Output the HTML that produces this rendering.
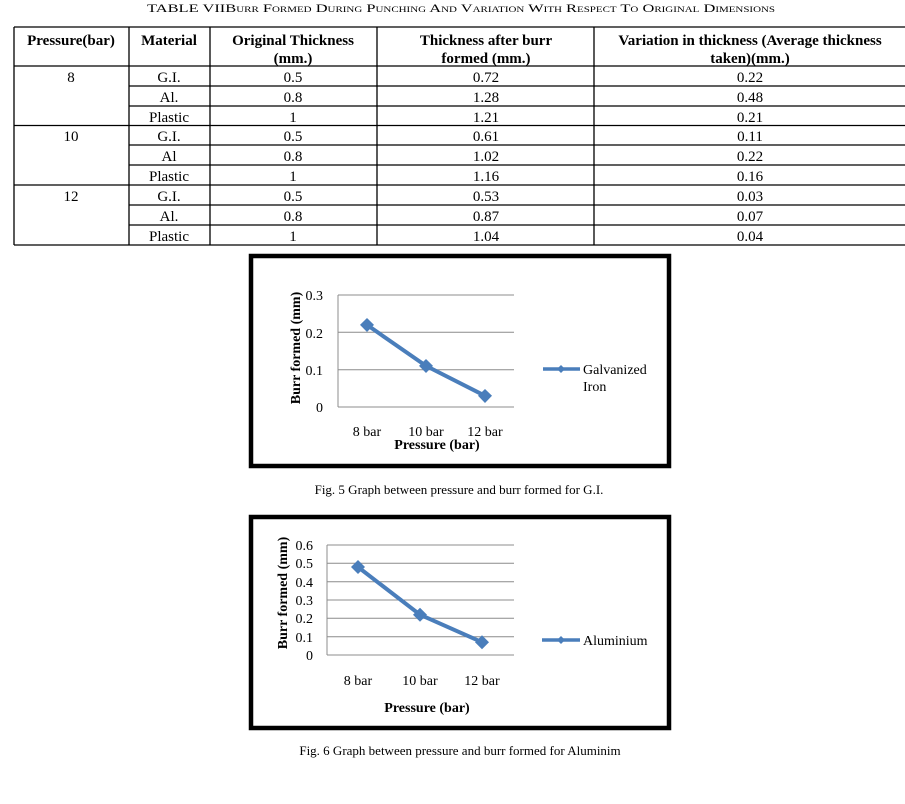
<!DOCTYPE html>
<html><head><meta charset="utf-8"><style>
html,body{margin:0;padding:0;background:#fff;}
svg{display:block;}
text{font-family:"Liberation Serif",serif;fill:#000;}
</style></head><body>
<svg width="905" height="804" viewBox="0 0 905 804" xmlns="http://www.w3.org/2000/svg">
<!-- Title -->
<text x="147" y="12" font-size="12" textLength="628" lengthAdjust="spacingAndGlyphs" style="font-variant:small-caps">TABLE VIIBurr Formed During Punching And Variation With Respect To Original Dimensions</text>
<!-- Table lines -->
<g stroke="#000" stroke-width="1.3">
<line x1="14" y1="27" x2="905" y2="27"/>
<line x1="14" y1="66" x2="905" y2="66"/>
<line x1="129" y1="86" x2="905" y2="86"/>
<line x1="129" y1="106" x2="905" y2="106"/>
<line x1="14" y1="125.5" x2="905" y2="125.5"/>
<line x1="129" y1="145" x2="905" y2="145"/>
<line x1="129" y1="165" x2="905" y2="165"/>
<line x1="14" y1="185" x2="905" y2="185"/>
<line x1="129" y1="205" x2="905" y2="205"/>
<line x1="129" y1="225" x2="905" y2="225"/>
<line x1="14" y1="245" x2="905" y2="245"/>
<line x1="14" y1="27" x2="14" y2="245"/>
<line x1="129" y1="27" x2="129" y2="245"/>
<line x1="210" y1="27" x2="210" y2="245"/>
<line x1="377" y1="27" x2="377" y2="245"/>
<line x1="594" y1="27" x2="594" y2="245"/>
</g>
<g font-size="15" font-weight="bold" text-anchor="middle">
<text x="71" y="45">Pressure(bar)</text>
<text x="169" y="45">Material</text>
<text x="293" y="45">Original Thickness</text>
<text x="293" y="63">(mm.)</text>
<text x="486" y="45">Thickness after burr</text>
<text x="486" y="63">formed (mm.)</text>
<text x="750" y="45">Variation in thickness (Average thickness</text>
<text x="750" y="63">taken)(mm.)</text>
</g>
<g font-size="15" text-anchor="middle">
<text x="71" y="82">8</text><text x="71" y="141">10</text><text x="71" y="201">12</text>
<text x="169" y="82">G.I.</text><text x="169" y="102">Al.</text><text x="169" y="122">Plastic</text>
<text x="169" y="141">G.I.</text><text x="169" y="161">Al</text><text x="169" y="181">Plastic</text>
<text x="169" y="201">G.I.</text><text x="169" y="221">Al.</text><text x="169" y="241">Plastic</text>
<text x="293" y="82">0.5</text><text x="293" y="102">0.8</text><text x="293" y="122">1</text>
<text x="293" y="141">0.5</text><text x="293" y="161">0.8</text><text x="293" y="181">1</text>
<text x="293" y="201">0.5</text><text x="293" y="221">0.8</text><text x="293" y="241">1</text>
<text x="486" y="82">0.72</text><text x="486" y="102">1.28</text><text x="486" y="122">1.21</text>
<text x="486" y="141">0.61</text><text x="486" y="161">1.02</text><text x="486" y="181">1.16</text>
<text x="486" y="201">0.53</text><text x="486" y="221">0.87</text><text x="486" y="241">1.04</text>
<text x="750" y="82">0.22</text><text x="750" y="102">0.48</text><text x="750" y="122">0.21</text>
<text x="750" y="141">0.11</text><text x="750" y="161">0.22</text><text x="750" y="181">0.16</text>
<text x="750" y="201">0.03</text><text x="750" y="221">0.07</text><text x="750" y="241">0.04</text>
</g>

<!-- Chart 1 -->
<rect x="251" y="256" width="418" height="210" fill="none" stroke="#000" stroke-width="4.5"/>
<g stroke="#8c8c8c" stroke-width="1">
<line x1="338" y1="295" x2="514" y2="295"/>
<line x1="338" y1="332.3" x2="514" y2="332.3"/>
<line x1="338" y1="369.7" x2="514" y2="369.7"/>
<line x1="338" y1="407" x2="514" y2="407"/>
<line x1="338" y1="295" x2="338" y2="407"/>
</g>
<g font-size="14" text-anchor="end">
<text x="323" y="300">0.3</text><text x="323" y="338">0.2</text><text x="323" y="375">0.1</text><text x="323" y="412">0</text>
</g>
<text transform="translate(300,348) rotate(-90)" font-size="14" font-weight="bold" text-anchor="middle">Burr formed (mm)</text>
<g font-size="14" text-anchor="middle">
<text x="367" y="436">8 bar</text><text x="426" y="436">10 bar</text><text x="485" y="436">12 bar</text>
</g>
<text x="437" y="449" font-size="14" font-weight="bold" text-anchor="middle">Pressure (bar)</text>
<polyline points="367,324.9 426,365.9 485,395.8" fill="none" stroke="#4a7ebb" stroke-width="4" stroke-linejoin="round"/>
<g fill="#4a7ebb">
<polygon points="367,318 374,324.9 367,332 360,324.9"/>
<polygon points="426,359 433,365.9 426,373 419,365.9"/>
<polygon points="485,389 492,395.8 485,403 478,395.8"/>
</g>
<line x1="543" y1="369" x2="580" y2="369" stroke="#4a7ebb" stroke-width="3.5"/>
<polygon points="561,365 565,369 561,373 557,369" fill="#4a7ebb"/>
<text x="583" y="374" font-size="14">Galvanized</text>
<text x="583" y="391" font-size="14">Iron</text>
<text x="459" y="494" font-size="13" text-anchor="middle">Fig. 5 Graph between pressure and burr formed for G.I.</text>

<!-- Chart 2 -->
<rect x="251" y="517" width="418" height="211" fill="none" stroke="#000" stroke-width="4.5"/>
<g stroke="#8c8c8c" stroke-width="1">
<line x1="327" y1="545" x2="514" y2="545"/>
<line x1="327" y1="563.3" x2="514" y2="563.3"/>
<line x1="327" y1="581.7" x2="514" y2="581.7"/>
<line x1="327" y1="600" x2="514" y2="600"/>
<line x1="327" y1="618.3" x2="514" y2="618.3"/>
<line x1="327" y1="636.7" x2="514" y2="636.7"/>
<line x1="327" y1="655" x2="514" y2="655"/>
<line x1="327" y1="545" x2="327" y2="655"/>
</g>
<g font-size="14" text-anchor="end">
<text x="313" y="550">0.6</text><text x="313" y="568">0.5</text><text x="313" y="587">0.4</text><text x="313" y="605">0.3</text><text x="313" y="623">0.2</text><text x="313" y="642">0.1</text><text x="313" y="660">0</text>
</g>
<text transform="translate(287,593) rotate(-90)" font-size="14" font-weight="bold" text-anchor="middle">Burr formed (mm)</text>
<g font-size="14" text-anchor="middle">
<text x="358" y="685">8 bar</text><text x="420" y="685">10 bar</text><text x="482" y="685">12 bar</text>
</g>
<text x="427" y="712" font-size="14" font-weight="bold" text-anchor="middle">Pressure (bar)</text>
<polyline points="358,567 420,614.7 482,642.2" fill="none" stroke="#4a7ebb" stroke-width="4" stroke-linejoin="round"/>
<g fill="#4a7ebb">
<polygon points="358,560 365,567 358,574 351,567"/>
<polygon points="420,607.7 427,614.7 420,621.7 413,614.7"/>
<polygon points="482,635.2 489,642.2 482,649.2 475,642.2"/>
</g>
<line x1="542" y1="640" x2="580" y2="640" stroke="#4a7ebb" stroke-width="3.5"/>
<polygon points="561,636 565,640 561,644 557,640" fill="#4a7ebb"/>
<text x="583" y="645" font-size="14">Aluminium</text>
<text x="460" y="755" font-size="13" text-anchor="middle">Fig. 6 Graph between pressure and burr formed for Aluminim</text>
</svg>
</body></html>
